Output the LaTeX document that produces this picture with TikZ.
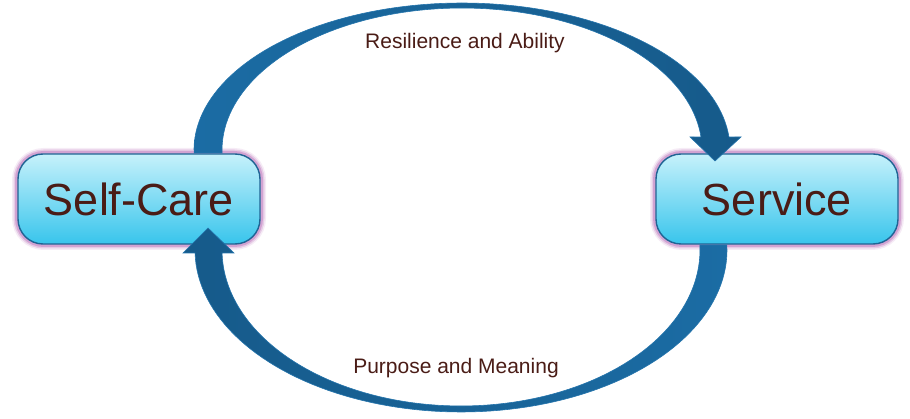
\documentclass[tikz,border=0pt]{standalone}
\usepackage{fontspec}
\setmainfont{Liberation Sans}
\definecolor{txt}{HTML}{4A1C16}
\definecolor{boxtop}{HTML}{C6F1FB}
\definecolor{boxbot}{HTML}{38C5EC}
\definecolor{boxline}{HTML}{1F6494}
\definecolor{glow}{HTML}{C282C2}
\definecolor{arrA}{HTML}{1B6CA4}
\definecolor{arrB}{HTML}{165A8A}
\definecolor{arrLine}{HTML}{2474AC}
\tikzset{
  cyclebox/.style={rectangle, rounded corners=25pt, minimum width=242pt, minimum height=90pt,
    top color=boxtop, bottom color=boxbot, draw=boxline, line width=1.4pt,
    text=txt, font=\fontsize{45}{54}\selectfont, inner sep=0pt},
  glowbox/.style={rectangle, rounded corners=27pt, minimum width=245pt, minimum height=93pt,
    draw=glow, inner sep=0pt},
  lbl/.style={text=txt, font=\fontsize{21}{25}\selectfont, inner sep=0pt},
  arrowbody/.style={draw=arrLine, line width=0.6pt}
}
\begin{document}
\begin{tikzpicture}[x=1pt,y=-1pt]
\useasboundingbox (0,0) rectangle (910,419);
% glows
\foreach \w/\o in {9/0.15, 6/0.3, 3/0.55} {
  \node[glowbox, line width=\w pt, draw opacity=\o] at (139,199) {};
  \node[glowbox, line width=\w pt, draw opacity=\o] at (777,199) {};
}
% boxes
\node[cyclebox] (sc) at (139,199) {Self-Care};
\node[cyclebox] (sv) at (777,199) {Service};
% top arrow: Self-Care -> Service
\path[arrowbody, left color=arrA, right color=arrB]
  plot[domain=181.17:5.07, samples=90, variable=\t] ({462+268*cos(\t)},{150-147*sin(\t)})
  -- (741,137) -- (715,161) -- (690,137)
  -- plot[domain=5.25:181.21, samples=90, variable=\t] ({462+240*cos(\t)},{150-142*sin(\t)})
  -- cycle;
% bottom arrow: Service -> Self-Care
\path[arrowbody, left color=arrB, right color=arrA]
  plot[domain=-1.77:178.94, samples=90, variable=\t] ({461+266*cos(\t)},{250+162*sin(\t)})
  -- (183,253) -- (208,228) -- (234,253)
  -- plot[domain=178.9:-1.84, samples=90, variable=\t] ({461+239*cos(\t)},{250+156*sin(\t)})
  -- cycle;
% labels
\node[lbl] (la) at (465,43) {Resilience and Ability};
\node[lbl] (lb) at (456,368) {Purpose and Meaning};
\end{tikzpicture}
\end{document}
